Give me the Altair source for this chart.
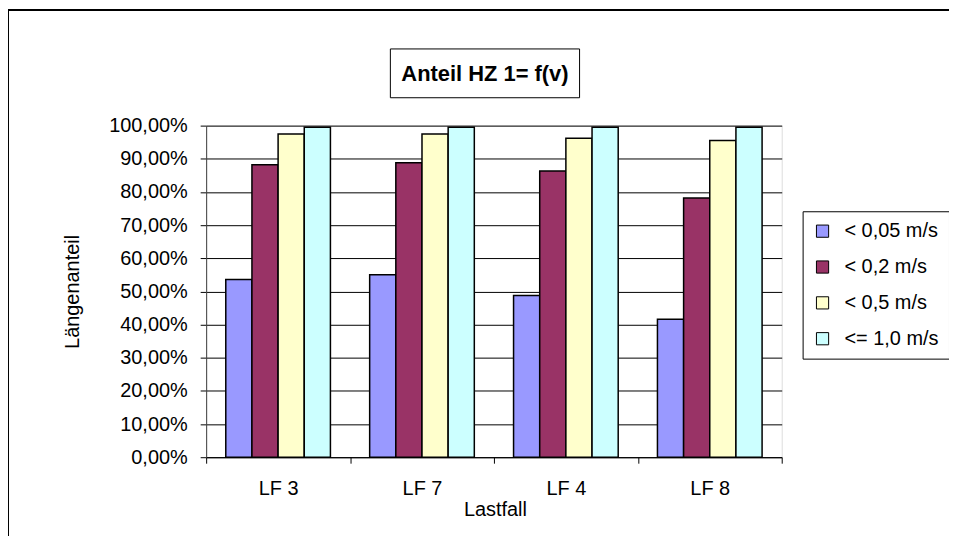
import altair as alt
import pandas as pd

categories = ["LF 3", "LF 7", "LF 4", "LF 8"]
series = ["< 0,05 m/s", "< 0,2 m/s", "< 0,5 m/s", "<= 1,0 m/s"]
v_005 = [0.536, 0.550, 0.488, 0.416]
v_02 = [0.882, 0.888, 0.863, 0.782]
v_05 = [0.975, 0.975, 0.962, 0.955]
v_10 = [0.995, 0.995, 0.995, 0.995]
colors = ["#9999FF", "#993366", "#FFFFCC", "#CCFFFF"]
y_ticks = [0.0, 0.1, 0.2, 0.3, 0.4, 0.5, 0.6, 0.7, 0.8, 0.9, 1.0]
title_text = "Anteil HZ 1= f(v)"
x_title = "Lastfall"
y_title = "Längenanteil"

rows = []
for s, vals in zip(series, [v_005, v_02, v_05, v_10]):
    for c, v in zip(categories, vals):
        rows.append({"Lastfall": c, "Serie": s, "Anteil": v})
df = pd.DataFrame(rows)

FONT = "Liberation Sans"
FS = 20

bars = alt.Chart(df).mark_bar(stroke="black", strokeWidth=1.5).encode(
    x=alt.X("Lastfall:N", sort=categories,
            scale=alt.Scale(paddingInner=0, paddingOuter=0),
            axis=alt.Axis(title=x_title, labelAngle=0, tickBand="extent",
                          tickSize=6, tickColor="black", domainColor="black",
                          labelFontSize=FS, labelBaseline="middle", labelPadding=25,
                          titleFontSize=FS, titleFontWeight="normal",
                          titleX=290, titleY=53, titleBaseline="middle",
                          labelColor="black", titleColor="black")),
    xOffset=alt.XOffset("Serie:N", sort=series,
                        scale=alt.Scale(paddingInner=0, paddingOuter=0.75)),
    y=alt.Y("Anteil:Q", scale=alt.Scale(domain=[0, 1], nice=False),
            axis=alt.Axis(title=y_title, values=y_ticks,
                          labelExpr="replace(format(datum.value, '.2%'), '.', ',')",
                          tickSize=6, tickColor="black", domainColor="#404040",
                          gridColor="black", gridWidth=1, labelFontSize=FS,
                          labelPadding=13, titleFontSize=FS, titleFontWeight="normal",
                          titleX=-134, titleY=166.5, titleBaseline="middle", titleAngle=270,
                          labelColor="black", titleColor="black")),
    color=alt.Color("Serie:N", sort=series,
                    scale=alt.Scale(domain=series, range=colors),
                    legend=alt.Legend(title=None, orient="none", legendX=599, legendY=86,
                                      padding=10, rowPadding=16, symbolType="square",
                                      symbolSize=150, symbolStrokeColor="black",
                                      symbolStrokeWidth=1, symbolOpacity=1,
                                      labelFontSize=FS, labelOffset=12, labelLimit=300,
                                      strokeColor="black", fillColor="white",
                                      labelColor="black")),
)

one = pd.DataFrame({"t": [title_text]})

border = alt.Chart(one).mark_rect(filled=False, stroke="black", strokeWidth=2).encode(
    x=alt.value(-199), x2=alt.value(900), y=alt.value(-116), y2=alt.value(600)
)

title_box = alt.Chart(one).mark_rect(fill="white", stroke="black", strokeWidth=1).encode(
    x=alt.value(185), x2=alt.value(375), y=alt.value(-77), y2=alt.value(-28)
)

title = alt.Chart(one).mark_text(fontSize=22, fontWeight="bold", font=FONT,
                                 color="black", align="center", baseline="middle").encode(
    x=alt.value(280), y=alt.value(-52), text="t:N"
)

chart = alt.layer(border, title_box, title, bars).properties(
    width=578, height=333,
    padding={"left": 199, "top": 117, "right": 168, "bottom": 78},
    autosize="none",
    background="white",
).configure_view(
    fill="#C0C0C0", stroke="#808080", strokeWidth=2
).configure(font=FONT)

chart.save("out.html", embed_options={"renderer": "svg", "actions": False})
